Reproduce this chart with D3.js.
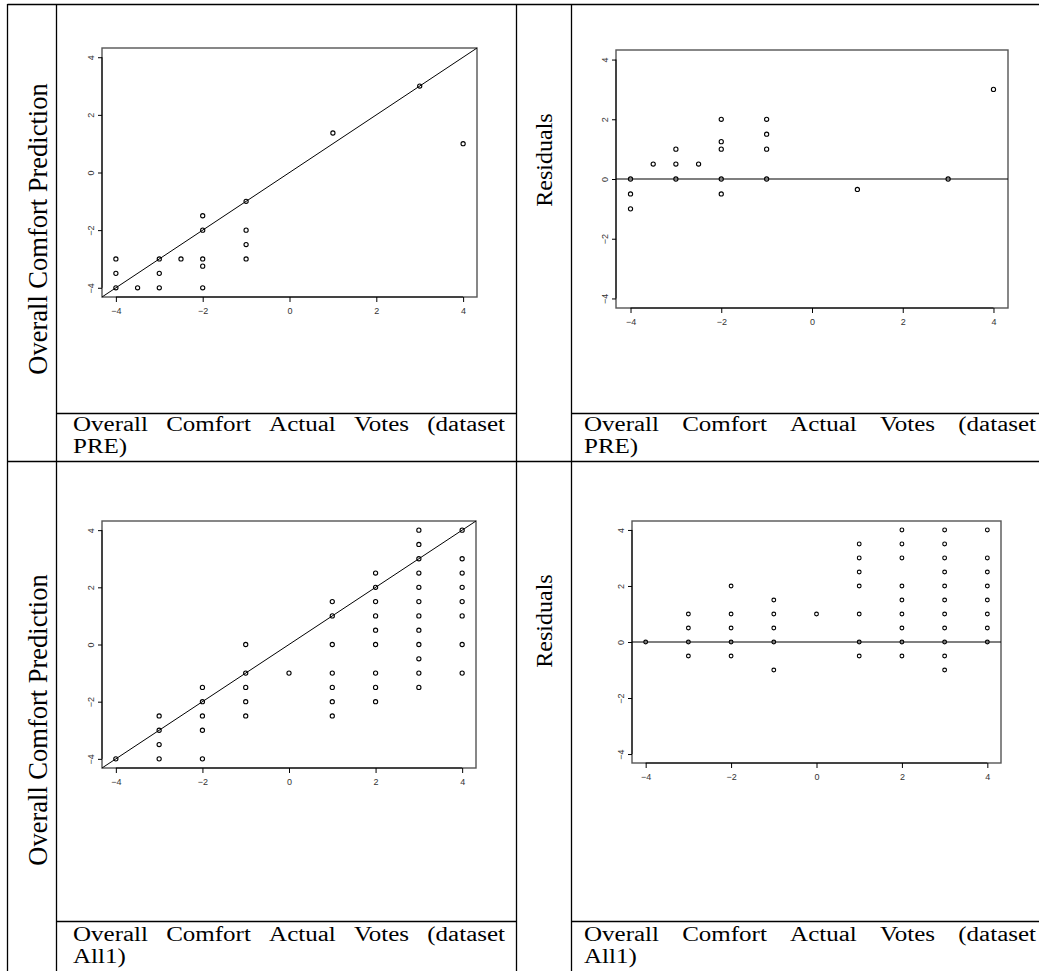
<!DOCTYPE html>
<html><head><meta charset="utf-8">
<script src="https://cdn.jsdelivr.net/npm/d3@7/dist/d3.min.js"></script>
<style>body{margin:0;background:#fff}svg{display:block}</style>
</head><body>
<svg id="chart" width="1039" height="971"></svg>
<script>
// ---------- data ----------
const tickValues = [-4, -2, 0, 2, 4];
const axisDomain = [-4.32, 4.32];

// dataset PRE : prediction vs actual
const preActual = [-4, -4, -4, -3.5, -3, -3, -3, -2.5, -2, -2, -2, -2, -2, -1, -1, -1, -1, 1, 3, 4];
const prePred   = [-3, -3.5, -4, -4, -3, -3.5, -4, -3, -1.5, -2, -3, -3.25, -4, -1, -2, -2.5, -3, 1.37, 3, 1];
// dataset PRE : residuals
const preResActual = [-4, -4, -4, -3.5, -3, -3, -3, -2.5, -2, -2, -2, -2, -2, -1, -1, -1, -1, 1, 3, 4];
const preResid     = [0, -0.5, -1, 0.5, 1, 0.5, 0, 0.5, 2, 1.25, 1, 0, -0.5, 2, 1.5, 1, 0, -0.35, 0, 3];

// dataset All1 : prediction vs actual
const allActual = [-4,
  -3, -3, -3, -3,
  -2, -2, -2, -2, -2,
  -1, -1, -1, -1, -1,
  0,
  1, 1, 1, 1, 1, 1, 1,
  2, 2, 2, 2, 2, 2, 2, 2, 2,
  3, 3, 3, 3, 3, 3, 3, 3, 3, 3, 3, 3,
  4, 4, 4, 4, 4, 4, 4, 4];
const allPred = [-4,
  -2.5, -3, -3.5, -4,
  -1.5, -2, -2.5, -3, -4,
  0, -1, -1.5, -2, -2.5,
  -1,
  1.5, 1, 0, -1, -1.5, -2, -2.5,
  2.5, 2, 1.5, 1, 0.5, 0, -1, -1.5, -2,
  4, 3.5, 3, 2.5, 2, 1.5, 1, 0.5, 0, -0.5, -1, -1.5,
  4, 3, 2.5, 2, 1.5, 1, 0, -1];
// dataset All1 : residuals
const allResActual = [-4,
  -3, -3, -3, -3,
  -2, -2, -2, -2, -2,
  -1, -1, -1, -1, -1,
  0,
  1, 1, 1, 1, 1, 1, 1,
  2, 2, 2, 2, 2, 2, 2, 2, 2,
  3, 3, 3, 3, 3, 3, 3, 3, 3, 3, 3,
  4, 4, 4, 4, 4, 4, 4, 4];
const allResid = [0,
  1, 0.5, 0, -0.5,
  2, 1, 0.5, 0, -0.5,
  1.5, 1, 0.5, 0, -1,
  1,
  3.5, 3, 2.5, 2, 1, 0, -0.5,
  4, 3.5, 3, 2, 1.5, 1, 0.5, 0, -0.5,
  4, 3.5, 3, 2.5, 2, 1.5, 1, 0.5, 0, -0.5, -1,
  4, 3, 2.5, 2, 1.5, 1, 0.5, 0];

const predLabel = "Overall Comfort Prediction";
const residLabel = "Residuals";
const captionLine1 = "Overall Comfort Actual Votes (dataset";
const captionLine2 = ["PRE)", "All1)"];

// ---------- drawing ----------
const svg = d3.select("#chart");

// table grid
const grid = svg.append("g").attr("stroke", "#000").attr("stroke-width", 1.3);
const gl = (x1, y1, x2, y2) => grid.append("line").attr("x1", x1).attr("y1", y1).attr("x2", x2).attr("y2", y2);
gl(7.5, 4.5, 1039, 4.5);
gl(7.5, 4, 7.5, 971);
gl(56.5, 4, 56.5, 971);
gl(516.5, 4, 516.5, 971);
gl(571.5, 4, 571.5, 971);
gl(56, 413.5, 517, 413.5); gl(571, 413.5, 1039, 413.5);
gl(7, 461.5, 1039, 461.5);
gl(56, 921.5, 517, 921.5); gl(571, 921.5, 1039, 921.5);

const panels = [
  {xs: preActual, ys: prePred, ref: "diag", box: [102, 477, 48, 297], r: 2.1},
  {xs: preResActual, ys: preResid, ref: "zero", box: [616, 1008, 50, 308], r: 2.1},
  {xs: allActual, ys: allPred, ref: "diag", box: [102, 476, 521, 768], r: 2.1},
  {xs: allResActual, ys: allResid, ref: "zero", box: [632, 1001, 521, 763], r: 1.9}
];

panels.forEach(p => {
  const [l, r, t, b] = p.box;
  const x = d3.scaleLinear().domain(axisDomain).range([l, r]);
  const y = d3.scaleLinear().domain(axisDomain).range([b, t]);
  const g = svg.append("g");
  // frame
  g.append("rect").attr("x", l).attr("y", t).attr("width", r - l).attr("height", b - t)
    .attr("fill", "none").attr("stroke", "#555").attr("stroke-width", 1.4);
  // axes
  const ax = g.append("g").attr("transform", `translate(0,${b})`)
    .call(d3.axisBottom(x).tickValues(tickValues).tickSize(5).tickPadding(6).tickFormat(d3.format("d")));
  const ay = g.append("g").attr("transform", `translate(${l},0)`)
    .call(d3.axisLeft(y).tickValues(tickValues).tickSize(4).tickFormat(d3.format("d")));
  [ax, ay].forEach(a => {
    a.select(".domain").remove();
    a.selectAll("line").attr("stroke", "#000");
    a.selectAll("text").attr("font-family", "Arial, 'Liberation Sans', sans-serif")
      .attr("font-size", 9).attr("fill", "#333");
  });
  ax.append("line").attr("x1", x(-4)).attr("x2", x(4)).attr("stroke", "#000");
  ay.append("line").attr("y1", y(-4)).attr("y2", y(4)).attr("stroke", "#000");
  ay.selectAll(".tick text").attr("x", null).attr("dy", null).attr("y", null)
    .attr("text-anchor", "middle")
    .attr("transform", "translate(-8,0) rotate(-90)");
  // reference line
  if (p.ref === "diag") {
    g.append("line").attr("x1", x(axisDomain[0])).attr("y1", y(axisDomain[0]))
      .attr("x2", x(axisDomain[1])).attr("y2", y(axisDomain[1]))
      .attr("stroke", "#000").attr("stroke-width", 1);
  } else {
    g.append("line").attr("x1", x(axisDomain[0])).attr("y1", y(0))
      .attr("x2", x(axisDomain[1])).attr("y2", y(0))
      .attr("stroke", "#000").attr("stroke-width", 1.2);
  }
  // points
  g.selectAll("circle").data(p.xs.map((v, i) => [v, p.ys[i]])).join("circle")
    .attr("cx", d => x(d[0])).attr("cy", d => y(d[1])).attr("r", p.r)
    .attr("fill", "none").attr("stroke", "#000").attr("stroke-width", 1.1);
});

// rotated labels
const serif = "'Liberation Serif', 'Times New Roman', serif";
const rot = (txt, cx, cy, size) => svg.append("text")
  .attr("transform", `translate(${cx},${cy}) rotate(-90)`)
  .attr("text-anchor", "middle").attr("font-family", serif).attr("font-size", size)
  .attr("fill", "#000").text(txt);
rot(predLabel, 47, 229, 26.5);
rot(predLabel, 47, 720, 26.5);
rot(residLabel, 552, 160, 24);
rot(residLabel, 552, 621, 24);

// justified captions (glyphs drawn slightly wide, as in the source document)
const stretch = 1.25;
function word(txt, x0, yb, size) {
  const e = svg.append("text").attr("font-family", serif).attr("font-size", size)
    .attr("x", x0).attr("y", yb).attr("fill", "#000").text(txt);
  const w = e.node().getComputedTextLength() * stretch;
  e.attr("textLength", w).attr("lengthAdjust", "spacingAndGlyphs");
  return [e, w];
}
function justify(words, x0, x1, yb, size) {
  const items = words.map(w => word(w, x0, yb, size));
  const total = d3.sum(items, d => d[1]);
  const gap = (x1 - x0 - total) / (words.length - 1);
  let cx = x0;
  items.forEach(([e, w]) => { e.attr("x", cx); cx += w + gap; });
}
const words = captionLine1.split(" ");
[[431, 453, 0], [941, 963, 1]].forEach(([b1, b2, k]) => {
  justify(words, 73, 505, b1, 20);
  justify(words, 584, 1036, b1, 20);
  word(captionLine2[k], 73, b2, 20);
  word(captionLine2[k], 584, b2, 20);
});
</script>
</body></html>
